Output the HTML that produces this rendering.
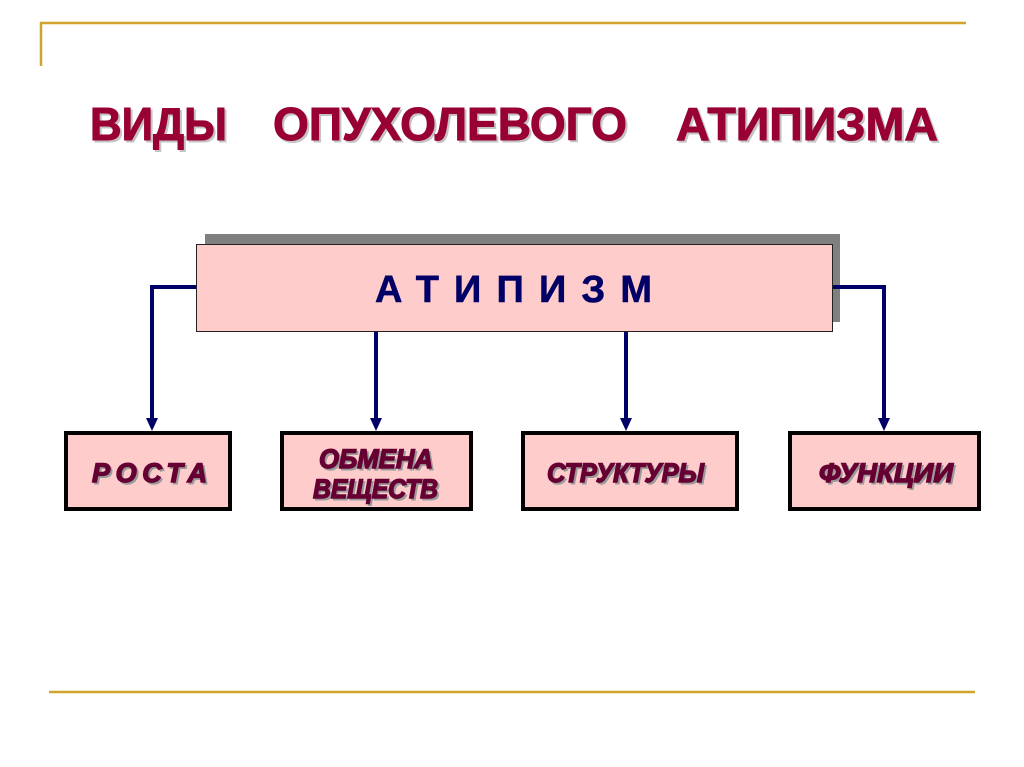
<!DOCTYPE html>
<html>
<head>
<meta charset="utf-8">
<style>
html,body{margin:0;padding:0;background:#fff;}
svg{display:block;}
</style>
</head>
<body>
<svg width="1024" height="767" viewBox="0 0 1024 767" xmlns="http://www.w3.org/2000/svg">
  <rect x="0" y="0" width="1024" height="767" fill="#ffffff"/>
  <!-- decorative gold lines -->
  <line x1="40" y1="23" x2="966" y2="23" stroke="#d2a22c" stroke-width="2.5"/>
  <line x1="41" y1="22" x2="41" y2="66" stroke="#d2a22c" stroke-width="2.5"/>
  <line x1="49" y1="692" x2="975" y2="692" stroke="#d2a22c" stroke-width="2.5"/>

  <!-- title shadow -->
  <g font-family="Liberation Sans, sans-serif" font-weight="bold" font-size="46" fill="#c4c4c4" stroke="#c4c4c4" stroke-width="1">
    <text x="92" y="142" textLength="137" lengthAdjust="spacingAndGlyphs">ВИДЫ</text>
    <text x="275" y="142" textLength="354" lengthAdjust="spacingAndGlyphs">ОПУХОЛЕВОГО</text>
    <text x="678" y="142" textLength="262" lengthAdjust="spacingAndGlyphs">АТИПИЗМА</text>
  </g>
  <!-- title -->
  <g font-family="Liberation Sans, sans-serif" font-weight="bold" font-size="46" fill="#990033" stroke="#990033" stroke-width="1">
    <text x="90" y="140" textLength="137" lengthAdjust="spacingAndGlyphs">ВИДЫ</text>
    <text x="273" y="140" textLength="354" lengthAdjust="spacingAndGlyphs">ОПУХОЛЕВОГО</text>
    <text x="676" y="140" textLength="262" lengthAdjust="spacingAndGlyphs">АТИПИЗМА</text>
  </g>

  <!-- main box shadow -->
  <rect x="205" y="234" width="635" height="88" fill="#808080"/>
  <!-- main box -->
  <rect x="196.5" y="244.5" width="636" height="87" fill="#ffcccc" stroke="#222" stroke-width="1"/>
  <text x="375" y="302" font-family="Liberation Sans, sans-serif" font-weight="bold" font-size="38" fill="#000066" stroke="#000066" stroke-width="0.6" textLength="277" lengthAdjust="spacing">АТИПИЗМ</text>

  <!-- connectors -->
  <g stroke="#000066" stroke-width="4" fill="none">
    <polyline points="196,287 152,287 152,421"/>
    <polyline points="833,287 884,287 884,421"/>
    <line x1="376" y1="332" x2="376" y2="421"/>
    <line x1="626" y1="332" x2="626" y2="421"/>
  </g>
  <g fill="#000066">
    <polygon points="146,418 158,418 152,431"/>
    <polygon points="878,418 890,418 884,431"/>
    <polygon points="370,418 382,418 376,431"/>
    <polygon points="620,418 632,418 626,431"/>
  </g>

  <!-- bottom boxes -->
  <g fill="#ffcccc" stroke="#000" stroke-width="4">
    <rect x="66" y="433" width="164" height="76"/>
    <rect x="282" y="433" width="189" height="76"/>
    <rect x="523" y="433" width="214" height="76"/>
    <rect x="790" y="433" width="189" height="76"/>
  </g>

  <!-- bottom labels shadows -->
  <g font-family="Liberation Sans, sans-serif" font-weight="bold" font-style="italic" font-size="27" fill="#9a9a9a" stroke="#9a9a9a" stroke-width="1">
    <text x="94" y="484" textLength="115" lengthAdjust="spacing">РОСТА</text>
    <text x="321" y="470" textLength="114" lengthAdjust="spacingAndGlyphs">ОБМЕНА</text>
    <text x="315" y="500" textLength="125" lengthAdjust="spacingAndGlyphs">ВЕЩЕСТВ</text>
    <text x="549" y="484" textLength="157" lengthAdjust="spacingAndGlyphs">СТРУКТУРЫ</text>
    <text x="821" y="484" textLength="134" lengthAdjust="spacingAndGlyphs">ФУНКЦИИ</text>
  </g>
  <!-- bottom labels -->
  <g font-family="Liberation Sans, sans-serif" font-weight="bold" font-style="italic" font-size="27" fill="#660033" stroke="#660033" stroke-width="1.4">
    <text x="92" y="482" textLength="115" lengthAdjust="spacing">РОСТА</text>
    <text x="319" y="468" textLength="114" lengthAdjust="spacingAndGlyphs">ОБМЕНА</text>
    <text x="313" y="498" textLength="125" lengthAdjust="spacingAndGlyphs">ВЕЩЕСТВ</text>
    <text x="547" y="482" textLength="157" lengthAdjust="spacingAndGlyphs">СТРУКТУРЫ</text>
    <text x="819" y="482" textLength="134" lengthAdjust="spacingAndGlyphs">ФУНКЦИИ</text>
  </g>
</svg>
</body>
</html>
